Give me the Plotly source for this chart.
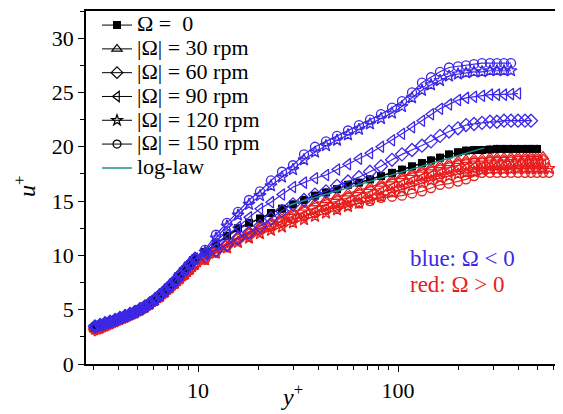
import plotly.graph_objects as go

# ---------------- data ----------------
yp_wall = [3.05, 3.24, 3.43, 3.63, 3.85, 4.07, 4.32, 4.57, 4.84, 5.13, 5.43,
           5.75, 6.10, 6.46, 6.84, 7.24, 7.67, 8.13, 8.61, 9.12, 9.66]
u_wall_neg = [3.45, 3.6, 3.75, 3.9, 4.05, 4.25, 4.42, 4.6, 4.8, 5.05, 5.3,
              5.6, 5.95, 6.35, 6.75, 7.2, 7.65, 8.2, 8.7, 9.2, 9.7]
u_wall_pos = [3.2, 3.35, 3.55, 3.75, 3.95, 4.15, 4.35, 4.55, 4.75, 5.0, 5.25,
              5.55, 5.9, 6.25, 6.65, 7.05, 7.45, 7.9, 8.3, 8.75, 9.2]

yp_outer = [10.84, 12.30, 13.96, 15.85, 17.99, 20.42, 23.17, 26.30, 29.85, 33.88,
            38.46, 43.65, 49.55, 56.23, 63.83, 72.44, 82.22, 93.33, 104.7, 117.5,
            131.8, 146.2, 162.2, 179.9, 199.5, 218.8, 239.9, 263.0, 288.4, 312.6,
            338.8, 367.3, 398.1, 431.5, 462.4, 495.5, 530.9, 568.9]

u_zero = [10.3, 11.1, 11.8, 12.5, 13.0, 13.4, 13.9, 14.3, 14.7, 15.1, 15.5, 15.8,
          16.1, 16.5, 16.7, 17.0, 17.3, 17.6, 17.9, 18.2, 18.5, 18.75, 19.0, 19.3,
          19.5, 19.65, 19.7, 19.7, 19.75, 19.8, 19.8, 19.8, 19.8, 19.8, 19.8, 19.8]

u_neg30 = [10.2, 11.0, 11.7, 12.4, 12.9, 13.4, 13.9, 14.3, 14.7, 15.1, 15.5, 15.8,
           16.1, 16.5, 16.7, 17.0, 17.3, 17.6, 17.9, 18.2, 18.5, 18.75, 19.0, 19.3,
           19.5, 19.65, 19.7, 19.7, 19.75, 19.8, 19.8, 19.8, 19.8, 19.8, 19.8, 19.8]
u_neg60 = [10.0, 10.5, 11.0, 11.6, 12.1, 12.7, 13.4, 14.1, 14.7, 15.1, 15.6, 15.9,
           16.4, 16.8, 17.2, 17.7, 18.2, 18.8, 19.3, 19.7, 20.1, 20.5, 21.0, 21.4,
           21.7, 22.0, 22.1, 22.2, 22.3, 22.3, 22.4, 22.4, 22.4, 22.4, 22.4]
u_neg90 = [10.2, 11.0, 11.9, 12.6, 13.5, 14.3, 14.9, 15.6, 16.3, 16.7, 17.1, 17.4,
           17.9, 18.4, 18.9, 19.4, 20.0, 20.6, 21.2, 21.8, 22.4, 23.0, 23.5, 23.9,
           24.3, 24.5, 24.6, 24.7, 24.8, 24.8, 24.8, 24.85, 24.9]
u_neg120 = [10.3, 11.6, 12.7, 13.7, 14.7, 15.5, 16.4, 17.2, 17.9, 18.8, 19.5, 20.1,
            20.6, 21.1, 21.6, 22.1, 22.6, 23.1, 23.7, 24.5, 25.2, 25.7, 26.1, 26.5,
            26.7, 26.8, 26.9, 26.9, 27.0, 27.0, 27.0, 27.0]
u_neg150 = [10.5, 11.9, 13.0, 14.0, 15.1, 15.9, 16.9, 17.7, 18.3, 19.3, 20.0, 20.5,
            21.0, 21.5, 22.0, 22.5, 23.0, 23.6, 24.2, 25.0, 25.9, 26.4, 26.9, 27.3,
            27.4, 27.5, 27.6, 27.7, 27.7, 27.7, 27.7, 27.7]

u_pos30 = [9.9, 10.5, 11.1, 11.7, 12.2, 12.7, 13.1, 13.6, 14.0, 14.4, 14.8, 15.1,
           15.4, 15.7, 16.0, 16.3, 16.6, 17.0, 17.3, 17.6, 17.9, 18.1, 18.3, 18.5,
           18.7, 18.8, 18.9, 18.9, 19.0, 19.0, 19.0, 19.05, 19.1, 19.1, 19.1, 19.1, 19.1]
u_pos60 = [9.8, 10.4, 10.9, 11.5, 11.9, 12.4, 12.8, 13.2, 13.6, 14.0, 14.4, 14.7,
           15.0, 15.3, 15.6, 15.9, 16.2, 16.6, 16.9, 17.2, 17.5, 17.7, 17.9, 18.1,
           18.3, 18.4, 18.5, 18.5, 18.6, 18.6, 18.6, 18.65, 18.7, 18.7, 18.7, 18.7, 18.7]
u_pos90 = [9.7, 10.3, 10.8, 11.3, 11.7, 12.1, 12.5, 12.9, 13.3, 13.6, 14.0, 14.3,
           14.6, 14.9, 15.2, 15.5, 15.8, 16.2, 16.5, 16.8, 17.1, 17.3, 17.5, 17.7,
           17.9, 18.0, 18.1, 18.1, 18.2, 18.2, 18.2, 18.25, 18.3, 18.3, 18.3, 18.3, 18.3]
u_pos120 = [9.6, 10.2, 10.7, 11.2, 11.6, 12.0, 12.3, 12.6, 13.0, 13.3, 13.6, 13.9,
            14.2, 14.5, 14.8, 15.1, 15.4, 15.8, 16.1, 16.4, 16.7, 16.9, 17.1, 17.3,
            17.5, 17.6, 17.7, 17.8, 17.9, 17.9, 17.9, 17.95, 18.0, 18.0, 18.0, 18.0, 18.0, 18.0]
u_pos150 = [9.6, 10.3, 10.9, 11.5, 12.0, 12.4, 12.8, 13.1, 13.4, 13.6, 13.9, 14.2,
            14.4, 14.6, 14.8, 15.0, 15.3, 15.4, 15.5, 15.7, 15.9, 16.2, 16.5, 16.6,
            16.8, 17.0, 17.3, 17.6, 17.6, 17.6, 17.6, 17.6, 17.6, 17.6, 17.6, 17.6, 17.6, 17.6]

loglaw_yp = [28.0, 270.0]
loglaw_u = [14.6, 19.9]

legend_labels = ["Ω = \u00a00", "|Ω| = 30 rpm", "|Ω| = 60 rpm", "|Ω| = 90 rpm",
                 "|Ω| = 120 rpm", "|Ω| = 150 rpm", "log-law"]

x_major_ticks = [10, 100]
x_minor_ticks = [3, 4, 5, 6, 7, 8, 9, 20, 30, 40, 50, 60, 70, 80, 90, 200, 300, 400, 500, 600]

# ---------------- style ----------------
BLUE = "#3c28e6"
RED = "#e61e1e"
TEAL = "#1a9090"
FONT = "Liberation Serif, Times New Roman, serif"

symbols = {30: "triangle-up-open", 60: "diamond-open", 90: "triangle-left-open",
           120: "star-open", 150: "circle-open"}
msize = {30: 10, 60: 10, 90: 10, 120: 9, 150: 9}

fig = go.Figure()


def add_series(u_outer, u_wall, color, symbol, size):
    x = yp_wall + yp_outer[:len(u_outer)]
    y = u_wall + u_outer
    fig.add_trace(go.Scatter(
        x=x, y=y, mode="lines+markers", showlegend=False,
        line=dict(color=color, width=1.2),
        marker=dict(symbol=symbol, size=size, color=color, line=dict(width=1.3, color=color)),
    ))


red_sets = [(30, u_pos30), (60, u_pos60), (90, u_pos90), (120, u_pos120), (150, u_pos150)]
blue_sets = [(60, u_neg60), (90, u_neg90), (120, u_neg120), (150, u_neg150)]

for rpm, u in red_sets:
    add_series(u, u_wall_pos, RED, symbols[rpm], msize[rpm])
add_series(u_neg30, u_wall_neg, BLUE, symbols[30], 7)

# Omega = 0
fig.add_trace(go.Scatter(
    x=yp_wall + yp_outer[:len(u_zero)], y=u_wall_neg + u_zero, mode="lines+markers",
    showlegend=False, line=dict(color="black", width=1.2),
    marker=dict(symbol="square", size=8, color="black"),
))

for rpm, u in blue_sets:
    add_series(u, u_wall_neg, BLUE, symbols[rpm], msize[rpm])

# log-law
fig.add_trace(go.Scatter(x=loglaw_yp, y=loglaw_u, mode="lines", showlegend=False,
                         line=dict(color=TEAL, width=1.5)))


def big(s):
    return '<span style="font-size:22px">' + s + '</span>'


# legend entries (black symbols)
fig.add_trace(go.Scatter(x=[None], y=[None], mode="lines+markers", name=big(legend_labels[0]),
                         line=dict(color="black", width=1),
                         marker=dict(symbol="square", size=8, color="black")))
for i, rpm in enumerate([30, 60, 90, 120, 150]):
    fig.add_trace(go.Scatter(x=[None], y=[None], mode="lines+markers", name=big(legend_labels[i + 1]),
                             line=dict(color="black", width=1),
                             marker=dict(symbol=symbols[rpm], size=msize[rpm] - 1, color="black",
                                         line=dict(width=1.2, color="black"))))
fig.add_trace(go.Scatter(x=[None], y=[None], mode="lines", name=big(legend_labels[6]),
                         line=dict(color=TEAL, width=1.5)))

# page body has an 8px margin: figure is placed at (8, 8)
W, H = 555, 406
L, R, T, B = 78, 0, 1, 50
PW, PH = W - L - R, H - T - B

fig.update_layout(
    width=W, height=H,
    margin=dict(l=L, r=R, t=T, b=B),
    paper_bgcolor="white", plot_bgcolor="white",
    font=dict(family=FONT, size=22, color="black"),
    showlegend=True,
    legend=dict(x=11 / PW, y=1.008, xanchor="left", yanchor="top",
                bgcolor="rgba(0,0,0,0)", font=dict(family=FONT, size=16, color="black"),
                itemwidth=30, tracegroupgap=0),
    xaxis=dict(type="log", range=[0.44, 2.825], tickvals=x_major_ticks,
               ticktext=[str(v) for v in x_major_ticks],
               ticks="outside", ticklen=6, tickwidth=1.2, tickcolor="black",
               showline=True, linecolor="black", linewidth=1.5, mirror=True,
               showgrid=False, zeroline=False,
               tickfont=dict(family=FONT, size=22, color="black"),
               minor=dict(tickmode="array", tickvals=x_minor_ticks, ticks="outside", ticklen=4,
                          tickwidth=1, tickcolor="black", showgrid=False)),
    yaxis=dict(range=[0, 32.5], dtick=5, tick0=0,
               ticks="outside", ticklen=6, tickwidth=1.2, tickcolor="black",
               showline=True, linecolor="black", linewidth=1.5,
               showgrid=False, zeroline=False,
               tickfont=dict(family=FONT, size=22, color="black"),
               minor=dict(dtick=2.5, ticks="outside", ticklen=4, tickwidth=1, tickcolor="black",
                          showgrid=False)),
    annotations=[
        dict(text="<i>y</i><sup>+</sup>", xref="paper", yref="paper", x=(284 - L) / PW,
             y=-(387 - 356) / PH, xanchor="center", yanchor="middle", showarrow=False,
             font=dict(family=FONT, size=24)),
        dict(text="<i>u</i><sup>+</sup>", xref="paper", yref="paper", x=(17 - L) / PW,
             y=(356 - 177) / PH, xanchor="center", yanchor="middle", textangle=-90, showarrow=False,
             font=dict(family=FONT, size=24)),
        dict(text="blue: Ω &lt; 0", xref="paper", yref="paper", x=(400 - L) / PW, y=(356 - 250) / PH,
             xanchor="left", yanchor="middle", showarrow=False,
             font=dict(family=FONT, size=23, color=BLUE)),
        dict(text="red: Ω &gt; 0", xref="paper", yref="paper", x=(400 - L) / PW, y=(356 - 276) / PH,
             xanchor="left", yanchor="middle", showarrow=False,
             font=dict(family=FONT, size=23, color=RED)),
    ],
)

fig.write_html("out.html")
